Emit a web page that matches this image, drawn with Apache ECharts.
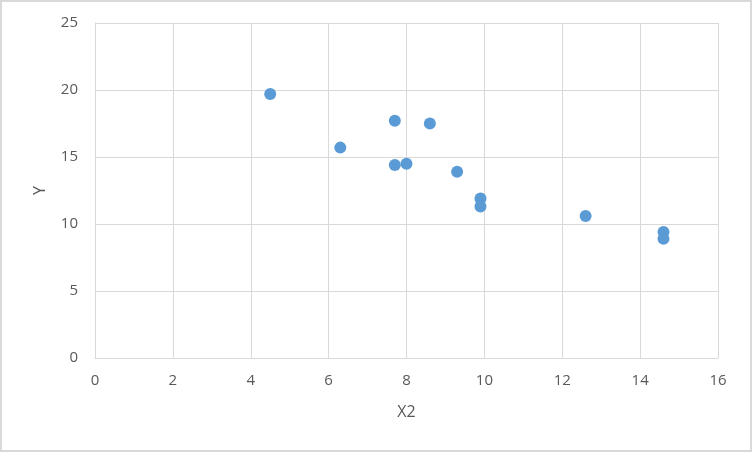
<!DOCTYPE html>
<html>
<head>
<meta charset="utf-8">
<script src="https://cdn.jsdelivr.net/npm/echarts@6/dist/echarts.min.js"></script>
<style>
html,body{margin:0;padding:0;background:#fff;}
#c{position:absolute;left:0;top:0;width:748px;height:448px;border:2px solid #d9d9d9;}
</style>
</head>
<body>
<div id="c"></div>
<script>
var xValues = [4.5, 6.3, 7.7, 8.6, 7.7, 8.0, 9.3, 9.9, 9.9, 12.6, 14.6, 14.6];
var yValues = [19.7, 15.7, 17.7, 17.5, 14.4, 14.5, 13.9, 11.9, 11.3, 10.6, 9.4, 8.9];
var xTitle = 'X2';
var yTitle = 'Y';

var points = xValues.map(function (x, i) { return [x, yValues[i]]; });
var font = '"Open Sans", "Liberation Sans", sans-serif';
var chart = echarts.init(document.getElementById('c'), null, {renderer: 'canvas'});
chart.setOption({
  animation: false,
  backgroundColor: '#fff',
  grid: {left: 93, top: 21, right: 32, bottom: 92},
  xAxis: {
    type: 'value', min: 0, max: 16, interval: 2,
    name: xTitle, nameLocation: 'middle', nameGap: 46,
    nameTextStyle: {color: '#595959', fontSize: 16, fontFamily: font},
    axisLine: {show: true, lineStyle: {color: '#d9d9d9'}},
    axisTick: {show: false},
    axisLabel: {color: '#595959', fontSize: 15, fontFamily: font, margin: 15},
    splitLine: {show: true, lineStyle: {color: '#d9d9d9'}}
  },
  yAxis: {
    type: 'value', min: 0, max: 25, interval: 5,
    name: yTitle, nameLocation: 'middle', nameGap: 47,
    nameTextStyle: {color: '#595959', fontSize: 16, fontFamily: font},
    axisLine: {show: true, lineStyle: {color: '#d9d9d9'}},
    axisTick: {show: false},
    axisLabel: {color: '#595959', fontSize: 15, fontFamily: font, margin: 17},
    splitLine: {show: true, lineStyle: {color: '#d9d9d9'}}
  },
  series: [{
    type: 'scatter',
    data: points,
    symbol: 'circle',
    symbolSize: 12,
    itemStyle: {color: '#5b9bd5', opacity: 1}
  }]
});
</script>
</body>
</html>
